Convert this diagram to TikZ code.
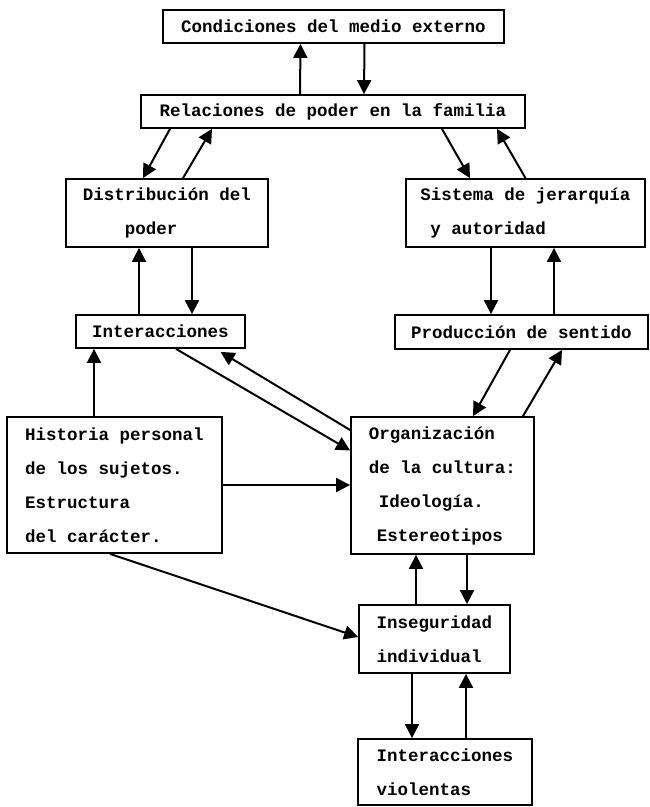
\documentclass[tikz,border=0pt]{standalone}
\usepackage{fontspec}
\setmonofont{Liberation Mono}
\usepackage{tikz}
\usetikzlibrary{arrows.meta, positioning, calc}

\begin{document}
\begin{tikzpicture}[
        x=1pt, y=-1pt,
        caja/.style={rectangle, draw=black, line width=1.8pt, inner sep=0pt, align=left,
            font=\ttfamily\bfseries\fontsize{17.5}{34}\selectfont},
        flecha/.style={-{Triangle[length=14pt, width=14pt]}, line width=2pt, draw=black}
    ]
        \useasboundingbox (0,0) rectangle (650,807);

        \node[caja, minimum width=341pt, minimum height=33pt] (cond) at (333.5,26.5) {Condiciones del medio externo};
        \node[caja, minimum width=384pt, minimum height=33pt] (rel) at (333,111.5) {Relaciones de poder en la familia};
        \node[caja, minimum width=202pt, minimum height=68pt] (dist) at (167,213) {Distribución del\\\hspace*{42pt}poder};
        \node[caja, minimum width=239pt, minimum height=68pt] (sist) at (525.5,213) {Sistema de jerarquía\\\hspace*{10pt}y autoridad};
        \node[caja, minimum width=169pt, minimum height=33pt] (inter) at (160.5,331.5) {Interacciones};
        \node[caja, minimum width=253pt, minimum height=34pt] (prod) at (521.5,332) {Producción de sentido};
        \node[caja, minimum width=215pt, minimum height=136pt] (hist) at (114.5,485) {Historia personal\\de los sujetos.\\Estructura\\del carácter.};
        \node[caja, minimum width=183pt, minimum height=137pt] (org) at (442.5,485.5) {Organización\\de la cultura:\\\hspace*{10pt}Ideología.\\\hspace*{8pt}Estereotipos};
        \node[caja, minimum width=151pt, minimum height=68pt] (inseg) at (434.5,639) {Inseguridad\\individual};
        \node[caja, minimum width=174pt, minimum height=66pt] (viol) at (445,772) {Interacciones\\violentas};

        % upper part
        \draw[flecha] ([xshift=-33pt]rel.north) -- ([xshift=-33pt]cond.south);
        \draw[flecha] ([xshift=31pt]cond.south) -- ([xshift=31pt]rel.north);
        \draw[flecha] ([xshift=-163pt]rel.south) -- ([xshift=-24pt]dist.north);
        \draw[flecha] ([xshift=16pt]dist.north) -- ([xshift=-121pt]rel.south);
        \draw[flecha] ([xshift=109pt]rel.south) -- ([xshift=-55.5pt]sist.north);
        \draw[flecha] (sist.north) -- ([xshift=164pt]rel.south);

        \draw[flecha] ([xshift=-21.5pt]inter.north) -- ([xshift=-28pt]dist.south);
        \draw[flecha] ([xshift=25pt]dist.south) -- ([xshift=31.5pt]inter.north);
        \draw[flecha] ([xshift=-34.5pt]sist.south) -- ([xshift=-30.5pt]prod.north);
        \draw[flecha] ([xshift=32.5pt]prod.north) -- ([xshift=28.5pt]sist.south);

        % middle part
        \draw[flecha] ([xshift=-11.5pt]prod.south) -- ([xshift=30.5pt]org.north);
        \draw[flecha] ([xshift=80.5pt]org.north) -- ([xshift=40.5pt]prod.south);
        \draw[flecha] ([xshift=15.5pt]inter.south) -- ([yshift=35pt]org.west);
        \draw[flecha] ([yshift=55.5pt]org.west) -- ([xshift=60pt,yshift=-3pt]inter.south);
        \draw[flecha] ([xshift=-20.5pt]hist.north) -- ([xshift=-66.5pt]inter.south);
        \draw[flecha] (hist.east) -- (hist.east -| org.west);
        \draw[flecha] ([xshift=-4.5pt]hist.south) -- ([yshift=2pt]inseg.west);

        % lower part
        \draw[flecha] ([xshift=-18.5pt]inseg.north) -- ([xshift=-26.5pt]org.south);
        \draw[flecha] ([xshift=24.5pt]org.south) -- ([xshift=32.5pt]inseg.north);
        \draw[flecha] ([xshift=-22.5pt]inseg.south) -- ([xshift=-33pt]viol.north);
        \draw[flecha] ([xshift=21pt]viol.north) -- ([xshift=31.5pt]inseg.south);
    \end{tikzpicture}
\end{document}
